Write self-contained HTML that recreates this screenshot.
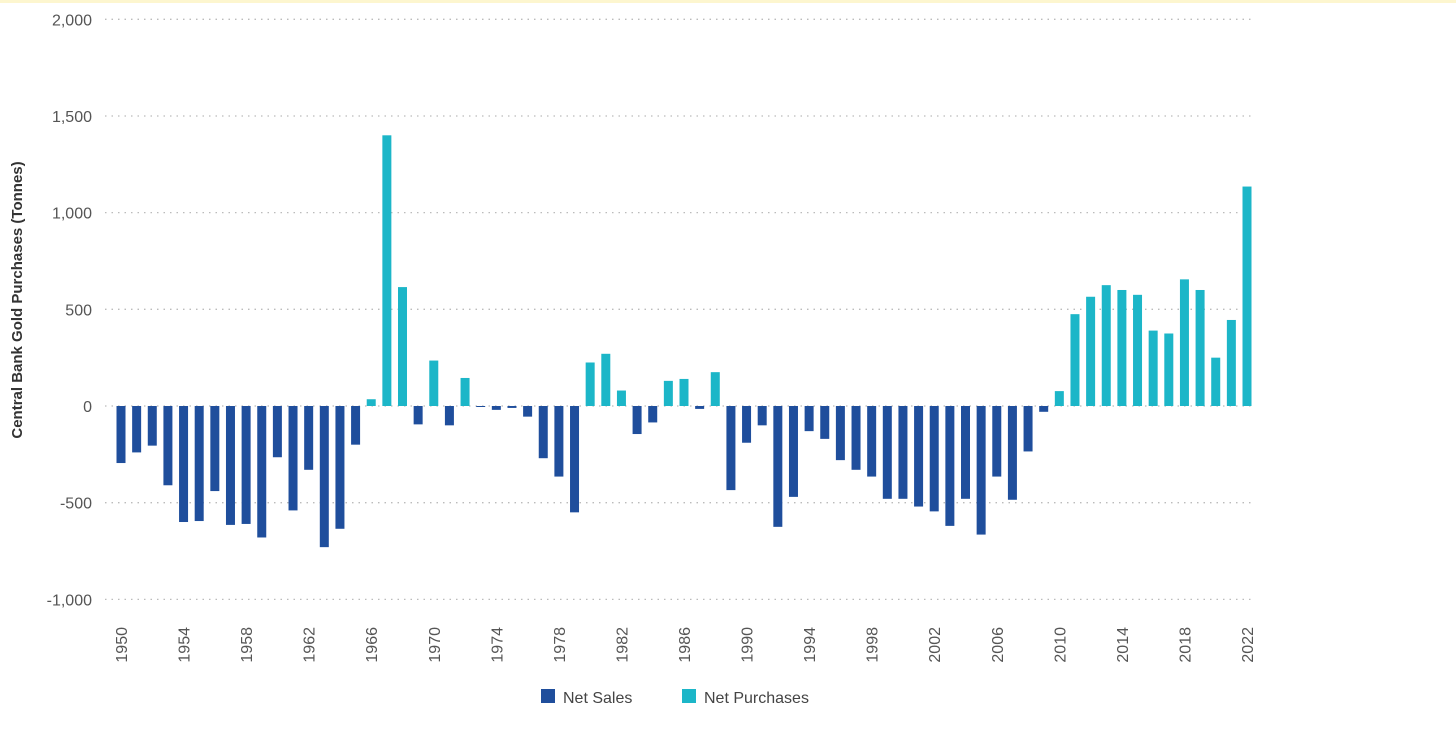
<!DOCTYPE html>
<html><head><meta charset="utf-8"><style>
html,body{margin:0;padding:0;background:#fff;}
svg{display:block;font-family:"Liberation Sans",sans-serif;}
</style></head><body>
<svg id="chart" width="1456" height="747" viewBox="0 0 1456 747">
<rect x="0" y="0" width="1456" height="3" fill="#fdf6cf"/>
<text x="22" y="300" transform="rotate(-90 22 300)" text-anchor="middle" font-size="15" font-weight="bold" fill="#333">Central Bank Gold Purchases (Tonnes)</text>
<g id="grid"></g><g id="bars"></g><g id="xlabels"></g>
<g>
<rect x="541" y="689" width="14" height="14" fill="#1f4e9c"/>
<text x="563" y="703" font-size="16" fill="#444">Net Sales</text>
<rect x="682" y="689" width="14" height="14" fill="#1cb6c8"/>
<text x="704" y="703" font-size="16" fill="#444">Net Purchases</text>
</g>
</svg>
<script>
const years=[];for(let y=1950;y<=2022;y++)years.push(y);
const values=[-295,-240,-205,-410,-600,-595,-440,-615,-610,-680,-265,-540,-330,-730,-635,-200,35,1400,615,-95,235,-100,145,-5,-20,-10,-55,-270,-365,-550,225,270,80,-145,-85,130,140,-15,175,-435,-190,-100,-625,-470,-130,-170,-280,-330,-365,-480,-480,-520,-545,-620,-480,-665,-365,-485,-235,-30,77,475,565,625,600,575,390,375,655,600,250,445,1135];
const yTicks=[2000,1500,1000,500,0,-500,-1000];
const yTickLabels=["2,000","1,500","1,000","500","0","-500","-1,000"];
const xTickYears=[1950,1954,1958,1962,1966,1970,1974,1978,1982,1986,1990,1994,1998,2002,2006,2010,2014,2018,2022];
const NS="http://www.w3.org/2000/svg";
const yS=v=>406-v*0.19335;
const xS=y=>121+(y-1950)*(1126/72);
const grid=document.getElementById('grid'),bars=document.getElementById('bars'),xl=document.getElementById('xlabels');
yTicks.forEach((t,i)=>{
 const l=document.createElementNS(NS,'line');
 l.setAttribute('x1',105);l.setAttribute('x2',1252);l.setAttribute('y1',yS(t));l.setAttribute('y2',yS(t));
 l.setAttribute('stroke','#bbb');l.setAttribute('stroke-dasharray','1.5 5');l.setAttribute('stroke-width','1.3');
 
 
 grid.appendChild(l);
 const tx=document.createElementNS(NS,'text');
 tx.setAttribute('x',92);tx.setAttribute('y',yS(t)+6);tx.setAttribute('text-anchor','end');
 tx.setAttribute('font-size','16');tx.setAttribute('fill','#555');tx.textContent=yTickLabels[i];
 
 
 grid.appendChild(tx);
});
years.forEach((yr,i)=>{
 const v=values[i];const r=document.createElementNS(NS,'rect');
 const y0=yS(0),y1=yS(v);
 r.setAttribute('x',xS(yr)-4.5);r.setAttribute('width',9);
 r.setAttribute('y',Math.min(y0,y1));r.setAttribute('height',Math.max(Math.abs(y1-y0),1));
 r.setAttribute('fill',v<0?'#1f4e9c':'#1cb6c8');
 
 
 bars.appendChild(r);
});
xTickYears.forEach(yr=>{
 const tx=document.createElementNS(NS,'text');
 const x=xS(yr)+6,y=627;
 tx.setAttribute('x',x);tx.setAttribute('y',y);tx.setAttribute('text-anchor','end');
 tx.setAttribute('transform','rotate(-90 '+x+' '+y+')');
 tx.setAttribute('font-size','16');tx.setAttribute('fill','#555');tx.textContent=yr;
 
 
 xl.appendChild(tx);
});
</script>
</body></html>
